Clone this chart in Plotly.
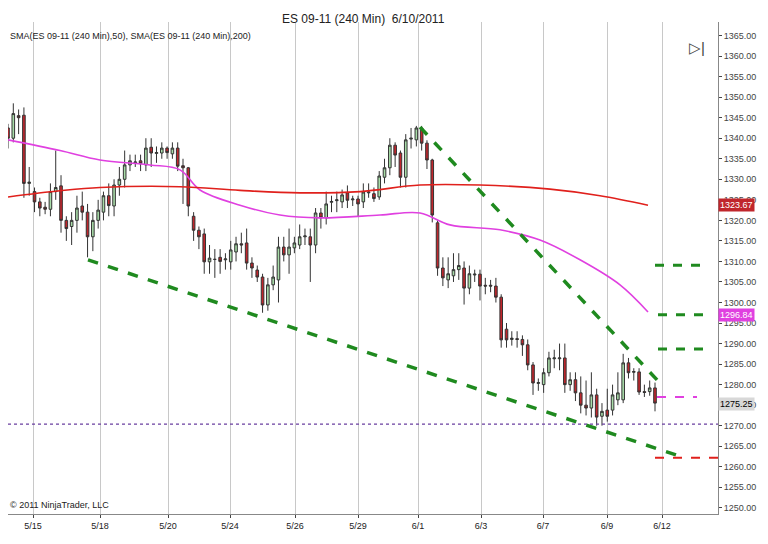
import plotly.graph_objects as go

# OHLC bars (240 min ES 09-11)
opens = [1342.5, 1340, 1345.5, 1345.6, 1329, 1327, 1324.5, 1323.2, 1322.7, 1327, 1328.4, 1320, 1318.5, 1320, 1323.5,
         1322, 1316, 1320, 1322, 1326, 1323.5, 1328.6, 1330, 1333.5, 1334, 1334.5, 1333.5, 1337.8, 1336.3, 1336.4,
         1337.6, 1336.2, 1337.6, 1333.3, 1332.8, 1321, 1317.6, 1316.7, 1309.9, 1310.5, 1311, 1310.4, 1309.9, 1312.3,
         1314.3, 1314.5, 1309.6, 1307.9, 1306.2, 1299.4, 1304.3, 1305.5, 1313.5, 1311.6, 1313.3, 1314, 1316, 1316,
         1314, 1321.8, 1320.6, 1324.4, 1324.8, 1324.5, 1326.7, 1325, 1325.2, 1324.5, 1326.7, 1326.5, 1325.7, 1330.5,
         1332.8, 1338.3, 1336.4, 1330.5, 1339.8, 1339.6, 1342.5, 1338.8, 1334.7, 1319.4, 1308.4, 1305.5, 1306.5, 1308,
         1308.4, 1303.5, 1306.7, 1306.9, 1304.2, 1304.2, 1304, 1301.3, 1293.5, 1291, 1291.2, 1291, 1289.7, 1284.8,
         1280.3, 1280, 1282.9, 1286.3, 1286.3, 1286.5, 1280, 1281.2, 1278, 1275, 1274.3, 1277.5, 1272.3, 1273.8,
         1273.8, 1276.3, 1276.3, 1285.3, 1283, 1283.1, 1278.3, 1278.3, 1279.2]
closes = [1340, 1346, 1345, 1329, 1329.3, 1324.5, 1323, 1322.7, 1327, 1328, 1320, 1318, 1320, 1323, 1322,
          1316, 1320, 1322.5, 1326, 1323.6, 1328.6, 1330, 1333.5, 1334.5, 1334.2, 1333.8, 1337.6, 1336.4, 1336.5, 1337.6,
          1336.5, 1337.6, 1333.2, 1332.8, 1323.5, 1317.6, 1316, 1309.9, 1310.8, 1310.5, 1310, 1310.6, 1312.8, 1314.3,
          1314, 1309.6, 1308.4, 1306.2, 1299.4, 1304.3, 1306.2, 1313.5, 1311.6, 1313.5, 1314.5, 1316, 1316.2, 1314,
          1321.8, 1320.6, 1324, 1324.6, 1325, 1326.2, 1324.9, 1325.2, 1324, 1326.9, 1326.9, 1325.3, 1330.8, 1332.8,
          1338.3, 1335.9, 1330.5, 1339.6, 1340, 1342.5, 1338.8, 1334.7, 1321.3, 1308.4, 1306, 1307, 1308, 1309,
          1303.5, 1307, 1306.9, 1304, 1304, 1304, 1301.3, 1290.9, 1290.9, 1291.3, 1291, 1289.7, 1284.8, 1280.4,
          1280.5, 1282.9, 1286.5, 1286.5, 1286.5, 1280, 1281.2, 1278, 1275, 1274.3, 1277.5, 1272.1, 1273.5, 1272.3,
          1277.5, 1278, 1285.3, 1282.9, 1283.2, 1278.2, 1278.1, 1279.2, 1275.5]
highs = [1343.5, 1348.5, 1347, 1347.5, 1333, 1328, 1325.5, 1324.5, 1329, 1337, 1331, 1321, 1322, 1326, 1327,
         1324, 1322, 1325, 1327, 1329, 1330, 1333, 1337, 1336, 1336, 1336, 1340, 1340, 1338, 1339,
         1338, 1339, 1339, 1335, 1333, 1322, 1318.5, 1318, 1314, 1313, 1313, 1312, 1315, 1316,
         1317, 1318, 1311, 1309, 1307, 1306, 1309, 1316, 1316, 1318, 1316, 1319, 1318, 1318,
         1323, 1323, 1327, 1326, 1327, 1327.5, 1328.5, 1326, 1326, 1329, 1329, 1328, 1332, 1335,
         1340, 1339, 1337, 1341, 1342.5, 1343, 1343, 1339.5, 1335, 1320, 1311, 1311, 1312, 1312,
         1310, 1309, 1308, 1308, 1306, 1305.5, 1306, 1302, 1295, 1293, 1293, 1292, 1291, 1285.5,
         1281.5, 1284, 1288, 1288.5, 1290, 1290, 1283, 1283, 1282, 1281, 1283, 1279, 1275.5, 1279,
         1280, 1283, 1287.5, 1286.5, 1284, 1284, 1280, 1281, 1280.5]
lows = [1337.5, 1339, 1341, 1325.5, 1326, 1322, 1321, 1321.5, 1321, 1325, 1317, 1315, 1314, 1317, 1320,
        1311, 1312.5, 1318, 1320, 1321, 1321, 1326, 1328, 1332, 1333, 1332, 1332, 1333, 1334, 1335,
        1335, 1335, 1332, 1324, 1321, 1315, 1313, 1307, 1307, 1306, 1307, 1308, 1308, 1310,
        1312, 1308, 1306, 1305, 1297.5, 1298, 1303, 1300, 1310, 1307, 1312, 1313, 1314, 1305,
        1312, 1318, 1319, 1322, 1322, 1323, 1323, 1323.5, 1321, 1323, 1325.5, 1324.5, 1325, 1329,
        1331, 1333, 1328, 1328, 1337.5, 1338, 1337, 1332.5, 1319.5, 1306.5, 1304, 1303.5, 1305, 1305.5,
        1299.5, 1302, 1305, 1300.5, 1302, 1302.5, 1300, 1289, 1289, 1289.5, 1289, 1287, 1283.5, 1277.5,
        1278.5, 1278, 1282, 1284, 1283.5, 1278, 1278.5, 1276, 1273, 1272.5, 1272, 1270, 1270, 1271,
        1272.5, 1275, 1275.5, 1281.5, 1281, 1277.5, 1277, 1277.3, 1273.5]

n = len(closes)
step = (655 - 8) / (n - 1)  # pixel spacing between bars


def px(p):
    """pixel x -> bar index"""
    return (p - 8) / step


# moving averages (pixel x, price)
sma50_px = [8, 60, 100, 150, 180, 200, 240, 280, 320, 380, 420, 450, 500, 540, 580, 620, 648]
sma50 = [1339.6, 1337, 1334.7, 1333.5, 1332.3, 1327.4, 1323.7, 1321.3, 1320.6, 1321.3, 1321.8, 1318.9,
         1317.7, 1315.2, 1310.4, 1304.3, 1297.7]
sma200_px = [8, 60, 100, 180, 240, 300, 360, 420, 480, 550, 600, 648]
sma200 = [1325.7, 1327.2, 1328, 1328.2, 1327.3, 1326.7, 1327, 1328.6, 1328.6, 1327.6, 1326, 1323.7]

date_px = [33, 100, 168, 230, 295, 358, 418, 481, 543, 607, 662]
date_labels = ['5/15', '5/18', '5/20', '5/24', '5/26', '5/29', '6/1', '6/3', '6/7', '6/9', '6/12']

fig = go.Figure()
fig.add_trace(go.Candlestick(
    x=list(range(n)), open=opens, high=highs, low=lows, close=closes,
    increasing=dict(line=dict(color='#333333', width=1), fillcolor='#a8dca8'),
    decreasing=dict(line=dict(color='#333333', width=1), fillcolor='#c0262c'),
    whiskerwidth=0, showlegend=False, hoverinfo='skip'))
fig.add_trace(go.Scatter(x=[px(v) for v in sma50_px], y=sma50, mode='lines', line=dict(color='#e040e0', width=1.6, shape='spline'),
                         showlegend=False))
fig.add_trace(go.Scatter(x=[px(v) for v in sma200_px], y=sma200, mode='lines', line=dict(color='#e0201c', width=1.6, shape='spline'),
                         showlegend=False))

green = '#1f8a1f'
shapes = [
    dict(type='line', x0=px(88), y0=1310.4, x1=px(682), y1=1262.4, line=dict(color=green, width=3.5, dash='dash')),
    dict(type='line', x0=px(420), y0=1342.7, x1=px(660), y1=1280.4, line=dict(color=green, width=3.5, dash='dash')),
    dict(type='line', x0=px(655), y0=1309.1, x1=px(705), y1=1309.1, line=dict(color=green, width=3, dash='dash')),
    dict(type='line', x0=px(658), y0=1297, x1=px(705), y1=1297, line=dict(color=green, width=3, dash='dash')),
    dict(type='line', x0=px(658), y0=1288.7, x1=px(712), y1=1288.7, line=dict(color=green, width=3, dash='dash')),
    dict(type='line', x0=px(657), y0=1277, x1=px(697), y1=1277, line=dict(color='#e040e0', width=2, dash='dash')),
    dict(type='line', x0=px(655), y0=1262.2, x1=px(718), y1=1262.2, line=dict(color='#e0201c', width=2, dash='dash')),
    dict(type='line', xref='paper', x0=0, x1=1, y0=1270.4, y1=1270.4, line=dict(color='#6a3fa0', width=1.2, dash='dot')),
]

annotations = [
    dict(text='ES 09-11 (240 Min)  6/10/2011', xref='paper', yref='paper', x=0.5, y=1, yshift=12, showarrow=False,
         font=dict(size=12, color='#222')),
    dict(text='SMA(ES 09-11 (240 Min),50), SMA(ES 09-11 (240 Min),200)', xref='paper', yref='paper', x=0.0, y=0.985,
         xanchor='left', showarrow=False, font=dict(size=9, color='#222')),
    dict(text='© 2011 NinjaTrader, LLC', xref='paper', yref='paper', x=0.0, y=0.005, xanchor='left', yanchor='bottom',
         showarrow=False, font=dict(size=9, color='#222')),
    dict(text='▷|', xref='paper', yref='paper', x=0.985, y=0.97, showarrow=False, font=dict(size=15, color='#444')),
]
for val, bg, fc in [(1323.67, '#c0262c', 'white'), (1296.84, '#e040e0', 'white'), (1275.25, '#d8d8d8', 'black')]:
    annotations.append(dict(text=f'{val:.2f}', xref='paper', x=1, y=val, xanchor='left', showarrow=False,
                            bgcolor=bg, font=dict(size=9, color=fc), borderpad=1))

# the page adds an 8px body margin, so the figure is 8px smaller than the window
fig.update_layout(
    width=760, height=536, margin=dict(l=0, r=50, t=14, b=30),
    paper_bgcolor='white', plot_bgcolor='white',
    font=dict(family='Liberation Sans, Arial, sans-serif'),
    shapes=shapes, annotations=annotations,
    xaxis=dict(range=[px(8), px(718)], tickvals=[px(v) for v in date_px], ticktext=date_labels,
               showgrid=True, gridcolor='#c8c8c8', gridwidth=1, rangeslider=dict(visible=False),
               showline=True, linecolor='#888', ticks='outside', ticklen=3, tickfont=dict(size=9, color='#222'),
               zeroline=False),
    yaxis=dict(side='right', range=[1248.5, 1368.3], dtick=5, tickformat='.2f', showgrid=False,
               showline=True, linecolor='#888', ticks='outside', ticklen=3, tickfont=dict(size=9, color='#444'),
               zeroline=False),
)

fig.write_html("out.html")
